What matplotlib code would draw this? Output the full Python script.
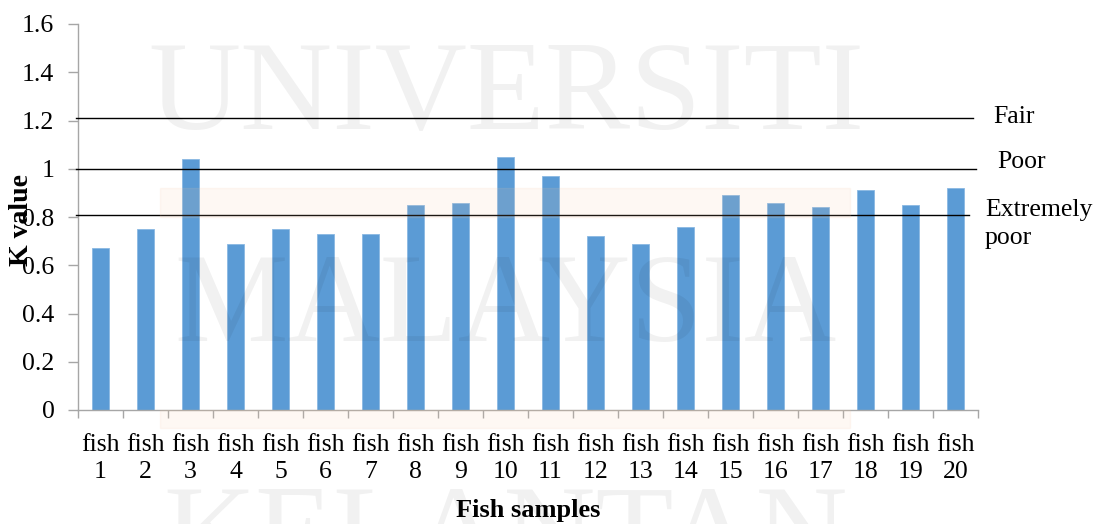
import matplotlib
matplotlib.use("Agg")
import matplotlib.pyplot as plt
from matplotlib.patches import Rectangle

# ---- data ----
categories = [f"fish\n{i}" for i in range(1, 21)]
k_values = [0.67, 0.75, 1.04, 0.69, 0.75, 0.73, 0.73, 0.85, 0.86, 1.05,
            0.97, 0.72, 0.69, 0.76, 0.89, 0.86, 0.84, 0.91, 0.85, 0.92]
threshold_values = [1.21, 1.0, 0.81]
threshold_labels = ["Fair", "Poor", "Extremely\npoor"]
y_ticks = [0, 0.2, 0.4, 0.6, 0.8, 1.0, 1.2, 1.4, 1.6]
y_tick_labels = ["0", "0.2", "0.4", "0.6", "0.8", "1", "1.2", "1.4", "1.6"]

W, H = 1097, 524
plt.rcParams['font.family'] = ['Liberation Serif', 'DejaVu Serif']
fig = plt.figure(figsize=(W / 100, H / 100), dpi=100)
ax = fig.add_axes([78 / W, (H - 410) / H, 900 / W, 386 / H])

x = list(range(len(categories)))
ax.bar(x, k_values, width=0.39, color='#5B9BD5', edgecolor='#8AB8E3',
       linewidth=0.6, zorder=2)

ax.set_xlim(-0.5, len(categories) - 0.5)
ax.set_ylim(0, 1.6)
ax.set_yticks(y_ticks)
ax.set_yticklabels(y_tick_labels, fontsize=18.5)
ax.set_xticks(x)
ax.set_xticklabels(categories, fontsize=18.5, linespacing=1.3)
ax.set_xticks([i - 0.5 for i in range(len(categories) + 1)], minor=True)
ax.tick_params(axis='x', which='major', length=0, pad=17)
ax.tick_params(axis='x', which='minor', length=6, color='#a6a6a6', width=1)
ax.tick_params(axis='y', length=7, color='#a6a6a6', width=1, pad=10)

for s in ['top', 'right']:
    ax.spines[s].set_visible(False)
for s in ['left', 'bottom']:
    ax.spines[s].set_color('#a6a6a6')
    ax.spines[s].set_linewidth(1)

# threshold lines
ytrans = ax.get_yaxis_transform()
ends = [0.994, 0.998, 0.99]
for val, e in zip(threshold_values, ends):
    ax.plot([-0.002, e], [val, val], color='black', lw=1, transform=ytrans,
            clip_on=False, zorder=3)

# labels for thresholds (figure pixel coordinates)
fig.text(993 / W, 1 - 117 / H, threshold_labels[0], fontsize=18.5, va='center', ha='left')
fig.text(997 / W, 1 - 162 / H, threshold_labels[1], fontsize=18.5, va='center', ha='left')
fig.text(985 / W, 1 - 224 / H, threshold_labels[2], fontsize=18.5, va='center', ha='left',
         linespacing=1.3)

fig.text(22 / W, 1 - 220 / H, "K value", fontsize=20, fontweight='bold',
         rotation=90, va='center', ha='center')
fig.text(528 / W, 1 - 511 / H, "Fish samples", fontsize=19, fontweight='bold',
         va='center', ha='center')

# faint watermark
for word, yc in [("UNIVERSITI", 98), ("MALAYSIA", 310), ("KELANTAN", 542)]:
    fig.text(506 / W, 1 - yc / H, word, fontsize=92, color='black', alpha=0.055,
             ha='center', va='center', zorder=10)
for (x0, y0, w, h) in [(160, 188, 690, 29), (160, 410, 690, 18)]:
    fig.patches.append(Rectangle((x0 / W, 1 - (y0 + h) / H), w / W, h / H,
                                 transform=fig.transFigure, color='#f7c9a0',
                                 alpha=0.12, zorder=0))

fig.savefig("out.png", dpi=100)
